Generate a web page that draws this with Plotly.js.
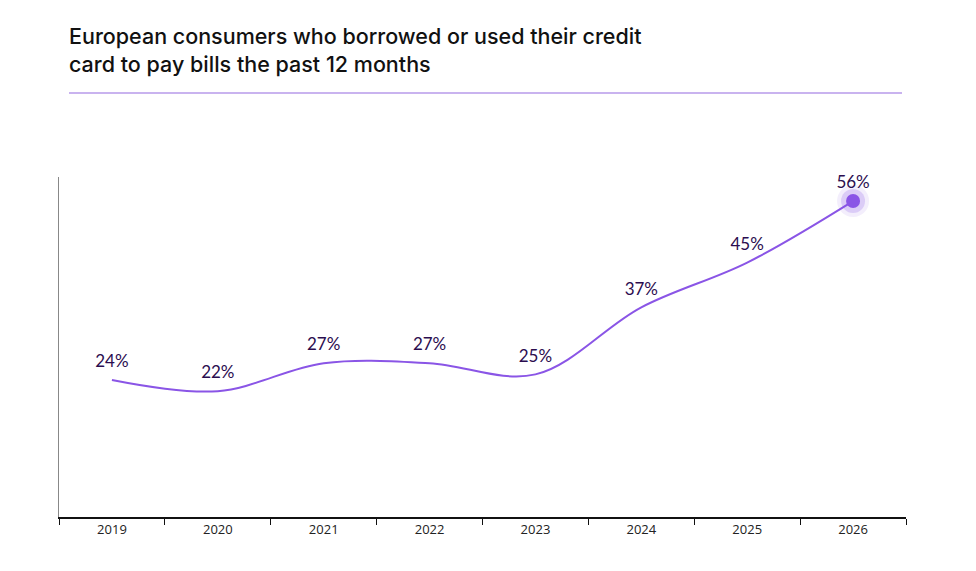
<!DOCTYPE html>
<html>
<head>
<meta charset="utf-8">
<script src="https://cdn.plot.ly/plotly-3.0.1.min.js"></script>
<style>
  html, body { margin: 0; padding: 0; background: #fff; }
  #chart { width: 976px; height: 571px; }
</style>
</head>
<body>
<div id="chart"></div>
<script>
// données
const years = ['2019', '2020', '2021', '2022', '2023', '2024', '2025', '2026'];
const shares = [24, 22, 27, 27, 25, 37, 45, 56];
const shareLabels = shares.map(v => v + '%');

const purple = '#8a55e6';
const labelColor = '#2b0d4f';

const lastYear = [years[years.length - 1]];
const lastShare = [shares[shares.length - 1]];

const traces = [
  // courbe
  { x: years, y: shares, mode: 'lines', hoverinfo: 'x+y', cliponaxis: false,
    line: { shape: 'spline', smoothing: 1, width: 2, color: purple } },
  // halo autour du dernier point
  { x: lastYear, y: lastShare, mode: 'markers', hoverinfo: 'skip', cliponaxis: false,
    marker: { size: 32, color: 'rgba(138,85,230,0.10)' } },
  { x: lastYear, y: lastShare, mode: 'markers', hoverinfo: 'skip', cliponaxis: false,
    marker: { size: 24, color: 'rgba(138,85,230,0.22)' } },
  // point final
  { x: lastYear, y: lastShare, mode: 'markers', hoverinfo: 'skip', cliponaxis: false,
    marker: { size: 14, color: purple } },
  // étiquettes
  { x: years, y: shares, mode: 'markers+text', text: shareLabels, cliponaxis: false,
    textposition: 'top center', hoverinfo: 'skip',
    marker: { size: 12, color: 'rgba(0,0,0,0)' },
    textfont: { family: 'Lato, sans-serif', size: 17, color: labelColor } }
];

const layout = {
  width: 976, height: 571,
  margin: { l: 59, r: 70, t: 177, b: 54 },
  paper_bgcolor: '#fff', plot_bgcolor: '#fff',
  showlegend: false,
  title: {
    text: 'European consumers who borrowed or used their credit<br>card to pay bills the past 12 months',
    xref: 'container', yref: 'container',
    x: 69 / 976, xanchor: 'left',
    y: 1 - 44 / 571, yanchor: 'top',
    font: { family: 'Inter, sans-serif', size: 21.5, color: '#111', weight: 500 }
  },
  xaxis: {
    type: 'category',
    categoryorder: 'array', categoryarray: years,
    range: [-0.5, 7.5],
    showline: true, linecolor: '#111', linewidth: 1.5,
    ticks: 'outside', tickson: 'boundaries', ticklen: 6, tickcolor: '#111', tickwidth: 1,
    showgrid: false, zeroline: false,
    tickfont: { family: 'Open Sans, sans-serif', size: 13, color: '#222' }
  },
  yaxis: {
    range: [-0.5, 60.3],
    showline: true, linecolor: '#888', linewidth: 1,
    showticklabels: false, ticks: '', showgrid: false, zeroline: false
  },
  shapes: [
    { type: 'line', xref: 'paper', yref: 'paper',
      x0: (69 - 59) / 847, x1: (902 - 59) / 847,
      y0: (517 - 93) / 340, y1: (517 - 93) / 340,
      line: { color: '#c9b3ef', width: 2 } }
  ]
};

Plotly.newPlot('chart', traces, layout, { displayModeBar: false, staticPlot: true });
</script>
</body>
</html>
